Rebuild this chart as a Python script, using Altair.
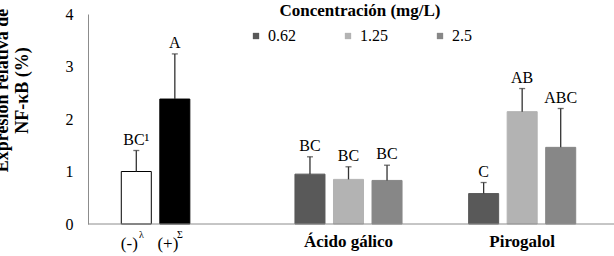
import altair as alt
import pandas as pd

# ---- data ----
groups = ["ctrl", "ctrl", "Ácido gálico", "Ácido gálico", "Ácido gálico",
          "Pirogalol", "Pirogalol", "Pirogalol"]
series = ["neg", "pos", "0.62", "1.25", "2.5", "0.62", "1.25", "2.5"]
slots = ["s1", "s2", "s1", "s2", "s3", "s1", "s2", "s3"]
means = [1.00, 2.38, 0.95, 0.85, 0.83, 0.58, 2.14, 1.46]
sds = [0.40, 0.86, 0.33, 0.24, 0.29, 0.21, 0.44, 0.74]
letters = ["BC¹", "A", "BC", "BC", "BC", "C", "AB", "ABC"]
bar_labels = ["(-)", "(+)", "", "", "", "", "", ""]
bar_sups = ["λ", "Σ", "", "", "", "", "", ""]

group_names = ["ctrl", "Ácido gálico", "Pirogalol"]
group_labels = ["", "Ácido gálico", "Pirogalol"]

series_domain = ["neg", "pos", "0.62", "1.25", "2.5"]
series_fill = ["#ffffff", "#000000", "#595959", "#b3b3b3", "#878787"]
series_stroke = ["#000000", "#000000", "#595959", "#b3b3b3", "#878787"]
legend_values = ["0.62", "1.25", "2.5"]
y_ticks = [0, 1, 2, 3, 4]

df = pd.DataFrame({"group": groups, "series": series, "slot": slots,
                   "mean": means, "sd": sds, "letter": letters,
                   "blabel": bar_labels, "bsup": bar_sups})
gdf = pd.DataFrame({"group": group_names, "glabel": group_labels})

FONT = "Liberation Serif"

xscale = alt.Scale(domain=group_names, range=[0, 521], paddingInner=0, paddingOuter=0)
xoff = alt.Scale(domain=["s1", "s2", "s3"], paddingInner=0.221, paddingOuter=0.864)
yscale = alt.Scale(domain=[0, 4], nice=False, zero=True)

X = alt.X("group:N", scale=xscale, axis=None)
XO = alt.XOffset("slot:N", scale=xoff)

base = alt.Chart(df)

bars = base.mark_bar(strokeWidth=1).encode(
    x=X, xOffset=XO,
    y=alt.Y("mean:Q", scale=yscale,
            axis=alt.Axis(values=y_ticks, format="d", grid=False, ticks=False, labelPadding=15,
                          domainColor="#8c8c8c", labelFontSize=16, labelFont=FONT,
                          labelColor="#000000",
                          title=["Expresión relativa de", "NF-κB (%)"],
                          titleFont=FONT, titleFontSize=18, titleFontWeight="bold",
                          titleLineHeight=20, titleAngle=-90, titleAlign="center",
                          titleBaseline="alphabetic", titleX=-81, titleY=76,
                          titleColor="#000000")),
    color=alt.Color("series:N", scale=alt.Scale(domain=series_domain, range=series_fill),
                    legend=alt.Legend(values=legend_values, title="Concentración (mg/L)",
                                      orient="none", legendX=160, legendY=-11,
                                      direction="horizontal", columns=3,
                                      titleAnchor="middle", titleFont=FONT,
                                      titleFontSize=17, titleFontWeight="bold",
                                      titleColor="#000000", titlePadding=8,
                                      labelFont=FONT, labelFontSize=16,
                                      labelColor="#000000", symbolType="square",
                                      symbolSize=40, symbolStrokeWidth=0,
                                      columnPadding=44, labelOffset=4, padding=0)),
    stroke=alt.Stroke("series:N", scale=alt.Scale(domain=series_domain, range=series_stroke),
                      legend=None),
)

err = base.transform_calculate(upper="datum.mean + datum.sd").mark_rule(
    color="#333333", strokeWidth=1.3).encode(
    x=X, xOffset=XO, y=alt.Y("mean:Q", scale=yscale), y2="upper:Q")

caps = base.transform_calculate(upper="datum.mean + datum.sd").mark_tick(
    color="#333333", thickness=1.3, size=6).encode(
    x=X, xOffset=XO, y=alt.Y("upper:Q", scale=yscale))

lett = base.transform_calculate(upper="datum.mean + datum.sd").mark_text(
    font=FONT, fontSize=16, baseline="alphabetic", dy=-6, color="#000000").encode(
    x=X, xOffset=XO, y=alt.Y("upper:Q", scale=yscale), text="letter:N")

blab = base.mark_text(font=FONT, fontSize=17, baseline="middle", dx=-7,
                      color="#000000").encode(
    x=X, xOffset=XO, y=alt.value(230), text="blabel:N")

bsup = base.mark_text(font=FONT, fontSize=10, baseline="middle", dx=5,
                      color="#000000").encode(
    x=X, xOffset=XO, y=alt.value(221), text="bsup:N")

glab = alt.Chart(gdf).mark_text(font=FONT, fontSize=17, fontWeight="bold",
                                baseline="middle", color="#000000").encode(
    x=X, y=alt.value(228), text="glabel:N")

baseline = alt.Chart(pd.DataFrame({"v": [0]})).mark_rule(
    color="#8c8c8c", strokeWidth=1).encode(
    y=alt.Y("v:Q", scale=yscale), x=alt.value(0), x2=alt.value(526))

chart = alt.layer(bars, err, caps, lett, baseline, blab, bsup, glab).properties(
    width=526, height=210,
    padding={"left": 88, "top": 14, "right": 0, "bottom": 32},
    autosize="none",
).configure(font=FONT).configure_view(stroke=None).resolve_scale(x="shared")

chart.save("out.html", embed_options={"renderer": "svg", "actions": False})
